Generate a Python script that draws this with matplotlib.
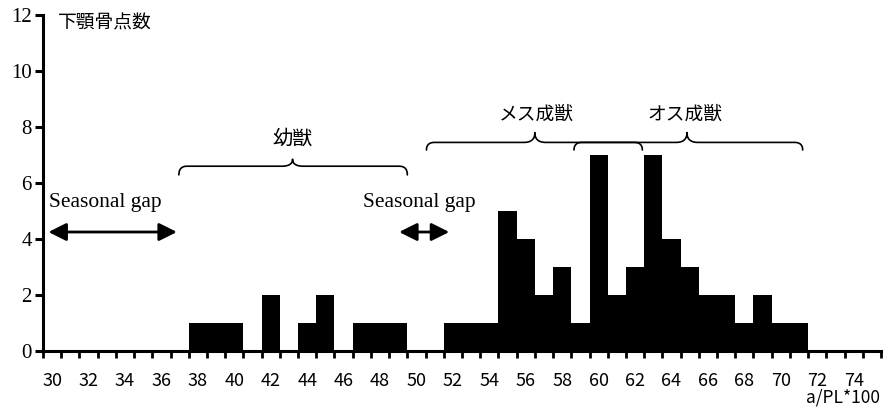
import numpy as np
import matplotlib
matplotlib.use('Agg')
import matplotlib.pyplot as plt

plt.rcParams['font.family'] = ['Noto Sans CJK JP', 'DejaVu Sans']

# a/PL*100 classes and counts
classes = list(range(30, 76))
counts = [0, 0, 0, 0, 0, 0, 0, 0,      # 30-37
          1, 1, 1, 0, 2, 0, 1, 2,      # 38-45
          0, 1, 1, 1, 0, 0, 1, 1,      # 46-53
          1, 5, 4, 2, 3, 1, 7, 2,      # 54-61
          3, 7, 4, 3, 2, 2, 1, 2,      # 62-69
          1, 1, 0, 0, 0, 0]            # 70-75
xtick_vals = list(range(30, 75, 2))
ytick_vals = [0, 2, 4, 6, 8, 10, 12]

ylabel_txt = '下顎骨点数'
xlabel_txt = 'a/PL*100'
gap_txt = 'Seasonal gap'
groups = ['幼獣', 'メス成獣', 'オス成獣']


def brace(ax, x0, x1, xc, yb, yh, yt, r=0.45, rc=0.6):
    # curly brace opening downward, tip at xc
    def qb(p0, p1, p2, n=20):
        t = np.linspace(0, 1, n)[:, None]
        return (1 - t) ** 2 * np.array(p0) + 2 * (1 - t) * t * np.array(p1) + t ** 2 * np.array(p2)
    pts = [qb((x0, yb), (x0, yh), (x0 + r, yh)),
           qb((xc - rc, yh), (xc, yh), (xc, yt)),
           qb((xc, yt), (xc, yh), (xc + rc, yh)),
           qb((x1 - r, yh), (x1, yh), (x1, yb))]
    p = np.vstack(pts)
    ax.plot(p[:, 0], p[:, 1], color='black', lw=1.2, solid_capstyle='round')


fig = plt.figure(figsize=(8.88, 4.08), dpi=100)
ax = fig.add_axes([0.0484, 0.1397, 0.9437, 0.8235])

ax.bar(classes, counts, width=1.0, color='black', edgecolor='black', linewidth=0)

ax.set_xlim(29.5, 75.5)
ax.set_ylim(0, 12)
ax.spines['top'].set_visible(False)
ax.spines['right'].set_visible(False)
ax.spines['left'].set_linewidth(2.2)
ax.spines['bottom'].set_linewidth(2.2)

ax.set_yticks(ytick_vals)
ax.set_yticklabels([str(v) for v in ytick_vals], fontsize=15, family='Liberation Serif')
ax.tick_params(axis='y', length=6, width=2.2, pad=2)

ax.set_xticks(xtick_vals)
ax.set_xticklabels([str(v) for v in xtick_vals], fontsize=13)
ax.set_xticks(np.arange(29.5, 76, 1.0), minor=True)
ax.tick_params(axis='x', which='major', length=0, pad=15)
ax.tick_params(axis='x', which='minor', length=5, width=2.0, direction='out')

ax.text(30.3, 11.7, ylabel_txt, fontsize=13.5, va='center', ha='left')
fig.text(0.991, 0.025, xlabel_txt, fontsize=12.5, ha='right', va='center')

# seasonal gaps
ax.text(29.85, 5.3, gap_txt, fontsize=15.5, family='Liberation Serif', ha='left', va='center')
ax.text(50.15, 5.3, gap_txt, fontsize=15.5, family='Liberation Serif', ha='center', va='center')
astyle = dict(arrowstyle='<|-|>,head_length=0.6,head_width=0.3', color='black',
              lw=2.0, mutation_scale=18, shrinkA=0, shrinkB=0)
ax.annotate('', xy=(36.85, 4.25), xytext=(29.8, 4.25), arrowprops=astyle)
ax.annotate('', xy=(51.8, 4.25), xytext=(49.05, 4.25), arrowprops=astyle)

# group braces
brace(ax, 36.96, 49.5, 43.2, 6.29, 6.6, 6.85)
brace(ax, 50.55, 62.4, 56.5, 7.18, 7.45, 7.8)
brace(ax, 58.65, 71.2, 64.85, 7.18, 7.45, 7.8)
ax.text(43.2, 7.55, groups[0], fontsize=14.5, ha='center', va='center')
ax.text(56.6, 8.45, groups[1], fontsize=13.5, ha='center', va='center')
ax.text(64.75, 8.45, groups[2], fontsize=13.5, ha='center', va='center')

fig.savefig('out.png', dpi=100)
